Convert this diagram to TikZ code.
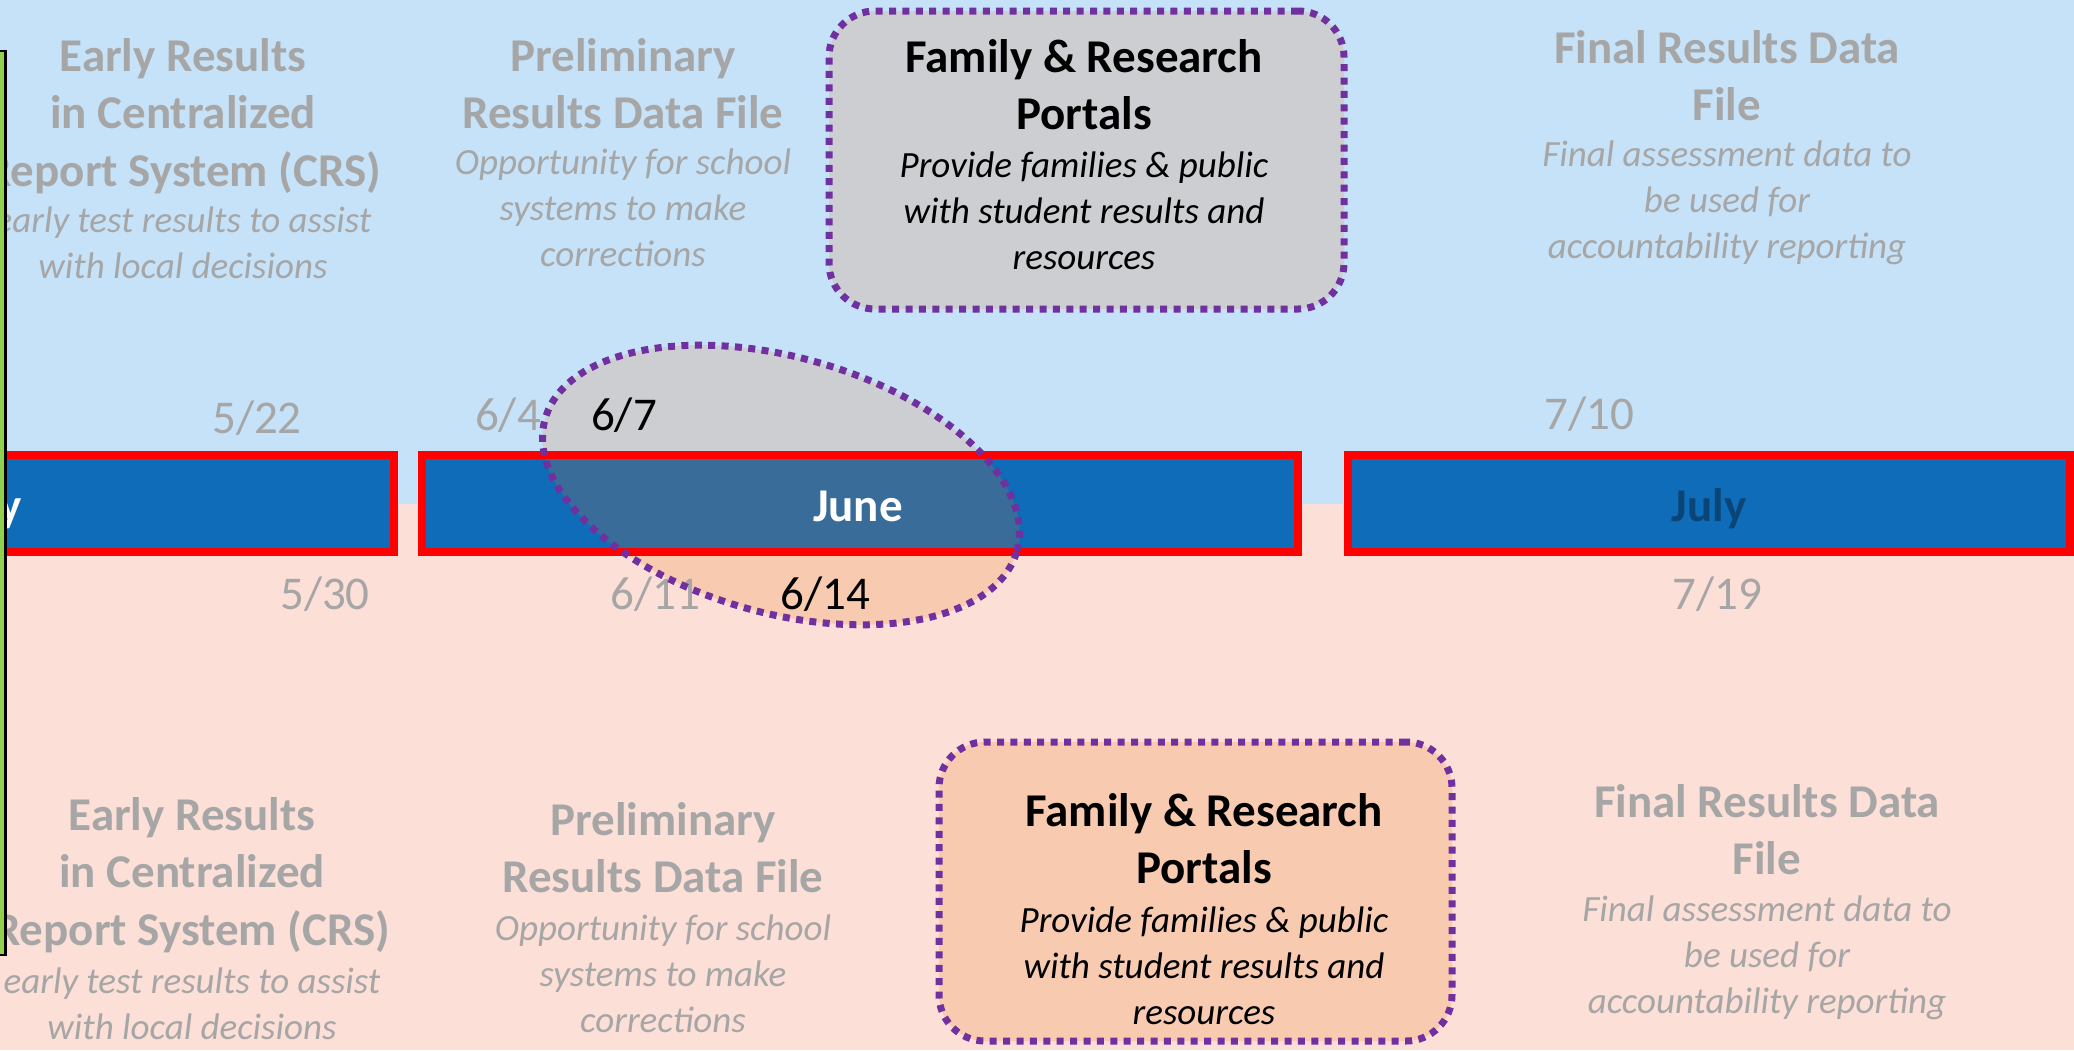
\documentclass[tikz,border=0pt]{standalone}
\usepackage{fontspec}
\setmainfont{Carlito}
\definecolor{bgblue}{HTML}{C5E2F8}
\definecolor{bgpink}{HTML}{FCDFD6}
\definecolor{barblue}{HTML}{0E6CB8}
\definecolor{barred}{HTML}{FF0000}
\definecolor{txtgray}{HTML}{A6A6A6}
\definecolor{boxgray}{HTML}{CDCED2}
\definecolor{boxpeach}{HTML}{F8CBB0}
\definecolor{ellblue}{HTML}{3A6C99}
\definecolor{hlpurple}{HTML}{7030A0}
\definecolor{sidegreen}{HTML}{92D050}
\definecolor{julyblue}{HTML}{0A4578}
\tikzset{
  ttl/.style={align=center, anchor=base, inner sep=0pt, font=\fontsize{47}{57.5}\selectfont\bfseries},
  dsc/.style={align=center, anchor=base, inner sep=0pt, font=\fontsize{37}{46}\selectfont\itshape},
  dte/.style={anchor=base, inner sep=0pt, font=\fontsize{47}{57}\selectfont},
  faded/.style={text=txtgray},
  monthbar/.style={draw=barred, line width=8pt, fill=barblue, minimum height=97pt, inner sep=0pt},
  mlabel/.style={anchor=base, inner sep=0pt, font=\fontsize{47}{57}\selectfont\bfseries},
  hlborder/.style={draw=hlpurple, line width=7pt, dash pattern=on 7pt off 6.4pt},
  portal/.style={hlborder, rounded corners=46pt, inner sep=0pt},
}
\begin{document}
\begin{tikzpicture}[x=1pt,y=-1pt]
\useasboundingbox (0,0) rectangle (2074,1050);
\clip (0,0) rectangle (2074,1050);
% backgrounds
\fill[bgblue] (0,0) rectangle (2074,504);
\fill[bgpink] (0,504) rectangle (2074,1050);
% month bars
\node[monthbar, minimum width=834pt] (maybar) at (-23,503.5) {};
\node[monthbar, minimum width=876pt] (junebar) at (860,503.5) {};
\node[monthbar, minimum width=722pt] (julybar) at (1709,503.5) {};
% highlight ellipse fill
\begin{scope}
\clip[shift={(781,485)}, rotate=-15.6] (0,0) ellipse [x radius=245pt, y radius=128pt];
\fill[boxgray] (0,0) rectangle (2074,451);
\fill[ellblue] (0,459) rectangle (2074,548);
\fill[boxpeach] (0,556) rectangle (2074,1050);
\end{scope}
% month labels
\node[mlabel, text=white] (mayL) at (-21,521) {May};
\node[mlabel, text=white] (juneL) at (858,521) {June};
\node[mlabel, text=julyblue] (julyL) at (1709,521) {July};
% portal boxes
\node[portal, fill=boxgray, minimum width=515pt, minimum height=298pt] (famTbox) at (1086.5,160) {};
\node[portal, fill=boxpeach, minimum width=513pt, minimum height=299pt] (famBbox) at (1195.5,891.5) {};
% top texts (anchor = baseline of last line)
\node[ttl, faded] (erT) at (183,186) {Early Results\\in Centralized\\Report System (CRS)};
\node[dsc, faded] (erTd) at (183,278) {early test results to assist\\with local decisions};
\node[ttl, faded] (prT) at (623,128.5) {Preliminary\\Results Data File};
\node[dsc, faded] (prTd) at (623,266) {Opportunity for school\\systems to make\\corrections};
\node[ttl, faded] (frT) at (1727,120.5) {Final Results Data\\File};
\node[dsc, faded] (frTd) at (1727,258) {Final assessment data to\\be used for\\accountability reporting};
\node[ttl] (fpT) at (1084,129.5) {Family \& Research\\Portals};
\node[dsc] (fpTd) at (1084,269) {Provide families \& public\\with student results and\\resources};
% bottom texts
\node[ttl, faded] (erB) at (192,945) {Early Results\\in Centralized\\Report System (CRS)};
\node[dsc, faded] (erBd) at (192,1039) {early test results to assist\\with local decisions};
\node[ttl, faded] (prB) at (663,892.5) {Preliminary\\Results Data File};
\node[dsc, faded] (prBd) at (663,1032) {Opportunity for school\\systems to make\\corrections};
\node[ttl, faded] (frB) at (1767,874.5) {Final Results Data\\File};
\node[dsc, faded] (frBd) at (1767,1013) {Final assessment data to\\be used for\\accountability reporting};
\node[ttl] (fpB) at (1204,883.5) {Family \& Research\\Portals};
\node[dsc] (fpBd) at (1204,1024) {Provide families \& public\\with student results and\\resources};
% dates
\node[dte, faded] (d522) at (257,433) {5/22};
\node[dte, faded] (d530) at (325,609) {5/30};
\node[dte, faded] (d64) at (508,430) {6/4};
\node[dte] (d67) at (624,430) {6/7};
\node[dte, faded] (d611) at (655,609) {6/11};
\node[dte] (d614) at (825,609) {6/14};
\node[dte, faded] (d710) at (1589,429) {7/10};
\node[dte, faded] (d719) at (1717,609) {7/19};
% highlight ellipse outline
\draw[hlborder, shift={(781,485)}, rotate=-15.6] (0,0) ellipse [x radius=245pt, y radius=128pt];
% green side box
\draw[black, line width=2.5pt, fill=sidegreen] (-20,51) rectangle (5.5,955);
\end{tikzpicture}
\end{document}
